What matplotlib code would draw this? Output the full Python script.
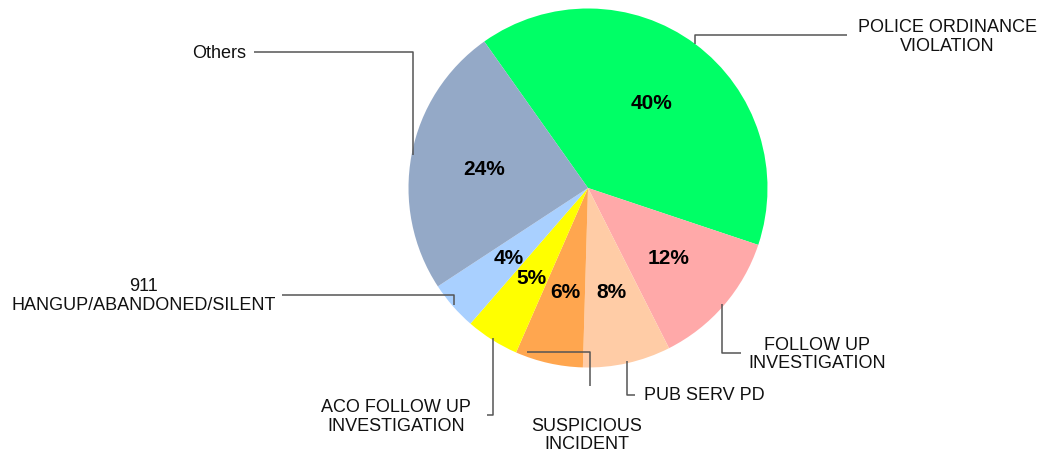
import numpy as np
import matplotlib
matplotlib.use("Agg")
import matplotlib.pyplot as plt

plt.rcParams['font.family'] = ['Liberation Sans', 'DejaVu Sans']

# call types, in drawing order (clockwise from the top left)
categories = ['POLICE ORDINANCE\nVIOLATION', 'FOLLOW UP\nINVESTIGATION', 'PUB SERV PD',
              'SUSPICIOUS\nINCIDENT', 'ACO FOLLOW UP\nINVESTIGATION',
              '911\nHANGUP/ABANDONED/SILENT', 'Others']
shares = [39.9, 12.4, 7.9, 6.1, 4.8, 4.4, 24.4]
colors = ['#00FF66', '#FFA9A9', '#FFCCA6', '#FFA64F', '#FFFF00', '#A9D0FF', '#94A9C7']

# pixel geometry of the reference
W, H = 1038, 456
cx, cy, R = 588, 189, 179.5

def to_data(px, py):
    return (px - cx) / R, (cy - py) / R

fig = plt.figure(figsize=(W / 100, H / 100), dpi=100)
ax = fig.add_axes([0, 0, 1, 1])

wedges, texts, autotexts = ax.pie(shares, colors=colors, startangle=125.3, counterclock=False,
                                  radius=1, autopct='%.0f%%', pctdistance=0.59,
                                  wedgeprops=dict(linewidth=0),
                                  textprops=dict(fontsize=15, fontweight='bold', color='black'))

# pie() resets the limits, so set them afterwards
x0, y1 = to_data(0, 0)
x1, y0 = to_data(W, H)
ax.set_aspect('auto')
ax.set_xlim(x0, x1)
ax.set_ylim(y0, y1)
ax.axis('off')

# label layout: (text pos px, ha, leader end px, mode, fraction along wedge, radius)
# mode 'v' = vertical leg first, 'h' = horizontal leg first
layout = [
    ((947, 37), 'center', (847, 36), 'v', 0.5, 1.0),
    ((817, 354.5), 'center', (741, 354), 'v', 0.5, 0.99),
    ((644, 396), 'left', (635, 396), 'v', 0.5, 0.99),
    ((586.5, 435.5), 'center', (590, 387), 'h', 0.86, 0.976),
    ((396, 417), 'center', (487, 416), 'v', 0.5, 0.99),
    ((143.5, 296), 'center', (282, 296), 'v', 0.5, 0.99),
    ((246, 54), 'right', (254, 53), 'v', 0.5, 0.99),
]

for w, name, (tpos, ha, lend, mode, frac, r) in zip(wedges, categories, layout):
    # clockwise pie: theta2 is the start edge
    ang = np.deg2rad(w.theta2 - frac * (w.theta2 - w.theta1))
    sx, sy = r * np.cos(ang), r * np.sin(ang)
    ex, ey = to_data(*lend)
    if mode == 'v':
        xs, ys = [sx, sx, ex], [sy, ey, ey]
    else:
        xs, ys = [sx, ex, ex], [sy, sy, ey]
    ax.plot(xs, ys, color='#555555', lw=1.1, solid_capstyle='butt')
    tx, ty = to_data(*tpos)
    ax.text(tx, ty, name, ha=ha, va='center', fontsize=13, color='#111111',
            multialignment='center', linespacing=1.1)

fig.savefig('out.png', dpi=100)
